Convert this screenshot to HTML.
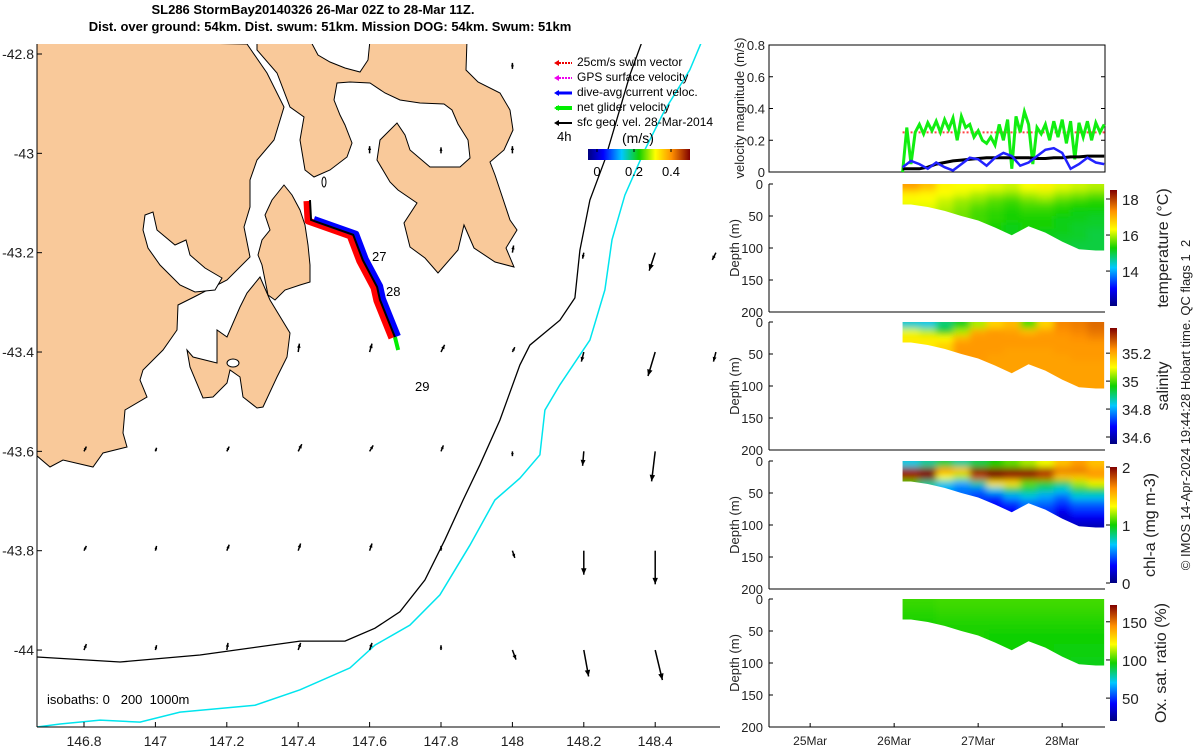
<!DOCTYPE html>
<html><head><meta charset="utf-8"><style>
html,body{margin:0;padding:0;background:#fff;}
svg{display:block;font-family:"Liberation Sans",sans-serif;}
</style></head><body>
<svg id="fig" width="1200" height="750" viewBox="0 0 1200 750" xmlns="http://www.w3.org/2000/svg">
<defs>
<linearGradient id="jetH" x1="0" x2="1" y1="0" y2="0">
<stop offset="0" stop-color="#00007f"/><stop offset="0.15" stop-color="#0000ff"/><stop offset="0.33" stop-color="#00c8ff"/><stop offset="0.5" stop-color="#10d000"/><stop offset="0.66" stop-color="#ffff00"/><stop offset="0.82" stop-color="#ff9000"/><stop offset="1" stop-color="#800000"/>
</linearGradient>
<linearGradient id="jetV" x1="0" x2="0" y1="1" y2="0">
<stop offset="0" stop-color="#00007f"/><stop offset="0.15" stop-color="#0000ff"/><stop offset="0.33" stop-color="#00c8ff"/><stop offset="0.5" stop-color="#10d000"/><stop offset="0.66" stop-color="#ffff00"/><stop offset="0.82" stop-color="#ff9000"/><stop offset="1" stop-color="#800000"/>
</linearGradient>
<filter id="soft" x="-5%" y="-5%" width="110%" height="110%"><feGaussianBlur stdDeviation="3.5"/></filter>
<clipPath id="mapclip"><rect x="37" y="44" width="683" height="683"/></clipPath>
</defs>

<g font-weight="bold" font-size="13" text-anchor="middle" fill="#000">
<text x="313" y="14">SL286 StormBay20140326 26-Mar 02Z to 28-Mar 11Z.</text>
<text x="330" y="31">Dist. over ground: 54km. Dist. swum: 51km. Mission DOG: 54km. Swum: 51km</text>
</g>

<g id="map" clip-path="url(#mapclip)">
<g fill="#f9c99a" stroke="#000" stroke-width="1">
<polygon points="30,40 247,44 267,73 284,107 274,140 257,160 250,180 250,207 244,227 250,257 227,280 194,297 178,305 177,330 163,350 143,370 140,380 147,397 125,410 123,433 127,447 103,453 93,467 63,460 50,467 30,450"/>
<polygon points="257,40 467,40 466,70 478,82 500,93 510,110 513,130 504,150 490,162 495,175 500,190 510,220 517,230 506,248 514,267 495,262 474,248 464,225 458,250 438,273 425,258 410,247 404,223 417,203 398,190 390,182 377,160 380,140 397,123 405,135 410,150 430,167 460,167 470,158 468,140 458,124 452,110 444,104 420,103 400,100 385,93 370,83 350,82 337,83 334,100 340,115 345,125 352,143 347,157 330,170 314,177 305,170 300,140 304,117 290,107 277,73 257,50"/>
<polygon points="284,185 292,195 300,210 305,225 308,245 310,265 310,282 300,285 285,290 275,300 268,295 265,280 262,265 258,255 262,240 270,230 265,215 272,200"/>
<polygon points="260,277 270,300 290,333 287,357 277,377 263,407 257,408 243,397 240,377 230,370 227,383 213,397 203,398 190,367 187,350 193,357 217,363 217,330 227,337 240,307 247,293"/>
</g>
<g fill="#fff" stroke="#000" stroke-width="1">
<polygon points="145,215 153,212 157,230 175,245 186,240 190,255 205,268 222,278 215,290 195,292 180,285 160,265 148,248 143,230"/>
<polygon points="310,40 370,40 368,60 360,72 345,68 330,62 318,55"/>
<ellipse cx="233" cy="363" rx="6" ry="4"/>
<ellipse cx="324" cy="182" rx="2" ry="5"/>
</g>
<g id="isobaths"></g>
<g id="vectors"></g>
<g id="track"></g>
<g font-size="13" fill="#000">
<text x="372" y="261">27</text><text x="386" y="296">28</text><text x="415" y="391">29</text>
</g>
</g>
<g stroke="#000" stroke-width="1">
<line x1="37" y1="44" x2="37" y2="727"/><line x1="37" y1="727" x2="720" y2="727"/>
</g>
<g id="mapticks" font-size="14" fill="#222"></g>
<text x="47" y="704" font-size="13" fill="#000" xml:space="preserve">isobaths: 0   200  1000m</text>

<g font-size="12" fill="#000">
<g><line x1="556" y1="63" x2="572" y2="63" stroke="#e00" stroke-width="2" stroke-dasharray="2,1"/><polygon points="554,63 559,60 559,66" fill="#e00"/><text x="577" y="66">25cm/s swim vector</text></g>
<g><line x1="556" y1="78" x2="572" y2="78" stroke="#e0e" stroke-width="2" stroke-dasharray="2,1"/><polygon points="554,78 559,75 559,81" fill="#e0e"/><text x="577" y="81">GPS surface velocity</text></g>
<g><line x1="556" y1="93" x2="572" y2="93" stroke="#00f" stroke-width="3"/><polygon points="554,93 559,90 559,96" fill="#00f"/><text x="577" y="96">dive-avg current veloc.</text></g>
<g><line x1="556" y1="108" x2="572" y2="108" stroke="#0e0" stroke-width="4"/><polygon points="554,108 559,105 559,111" fill="#0e0"/><text x="577" y="111">net glider velocity</text></g>
<g><line x1="556" y1="123" x2="572" y2="123" stroke="#000" stroke-width="2"/><polygon points="554,123 559,120 559,126" fill="#000"/><text x="577" y="126">sfc geo. vel. 28-Mar-2014</text></g>
<text x="557" y="141" font-size="13">4h</text>
<text x="622" y="143" font-size="14">(m/s)</text>
<rect x="588" y="149" width="102" height="11" fill="url(#jetH)"/>
<g stroke="#000" stroke-width="1"><line x1="597" y1="149" x2="597" y2="152"/><line x1="634" y1="149" x2="634" y2="152"/><line x1="671" y1="149" x2="671" y2="152"/></g>
<text x="597" y="176" text-anchor="middle" font-size="13">0</text><text x="634" y="176" text-anchor="middle" font-size="13">0.2</text><text x="671" y="176" text-anchor="middle" font-size="13">0.4</text>
</g>

<g id="right"></g>

<text transform="translate(1190,405) rotate(-90)" text-anchor="middle" font-size="13" fill="#222" xml:space="preserve">© IMOS 14-Apr-2024 19:44:28 Hobart time. QC flags 1  2</text>
</svg>

<script>
// ---------- velocity series ----------
const velGreenStart = 26.1, velGreenStep = 0.05;
const velGreen = [0,0.28,0.05,0.25,0.3,0.24,0.31,0.26,0.32,0.25,0.33,0.27,0.34,0.2,0.35,0.28,0.3,0.22,0.26,0.2,0.18,0.22,0.17,0.3,0.2,0.33,0.02,0.35,0.25,0.38,0.3,0.05,0.28,0.24,0.3,0.2,0.32,0.22,0.33,0.18,0.32,0.08,0.31,0.22,0.32,0.2,0.31,0.25,0.3];
const velBlueStep = 0.1;
const velBlue = [0.03,0.07,0.05,0.02,0.06,0.03,0.01,0.05,0.09,0.08,0.04,0.09,0.12,0.1,0.04,0.06,0.1,0.14,0.15,0.12,0.02,0.05,0.09,0.06,0.05];
const velBlack = [0.02,0.02,0.02,0.03,0.05,0.06,0.07,0.075,0.08,0.085,0.09,0.09,0.09,0.09,0.09,0.09,0.085,0.085,0.09,0.09,0.095,0.095,0.1,0.1,0.1];
const velSwim = 0.25;
const velTicks = [0,0.2,0.4,0.6,0.8];
const dateTicks = [25,26,27,28];
const dateLabels = ["25Mar","26Mar","27Mar","28Mar"];
const depthTicks = [0,50,100,150,200];

// ---------- sections ----------
const secStart = 26.1, secStep = 0.2;
const colBottom = [32,36,42,50,57,68,80,66,76,90,102,104];
const tempData = [
[17.2,16.5,16.3,16.2],[16.9,16.4,16.3,16.2],[16.4,16.3,16.1,16.0,15.9],[16.3,16.2,15.9,15.8,15.7],
[16.3,16.0,15.8,15.6,15.5,15.5],[16.2,15.9,15.6,15.5,15.4,15.4,15.3],[16.1,15.8,15.5,15.4,15.3,15.3,15.2,15.2],
[16.3,16.0,15.7,15.5,15.4,15.3,15.3],[16.4,16.1,15.8,15.5,15.4,15.3,15.3,15.2],
[16.2,15.9,15.6,15.4,15.3,15.2,15.2,15.2,15.1],[16.1,15.8,15.5,15.3,15.2,15.2,15.1,15.1,15.1,15.0,15.0],
[16.0,15.7,15.4,15.3,15.2,15.1,15.1,15.0,15.0,15.0,15.0]];
const salData = [
[34.85,35.08,35.12,35.12],[34.84,35.05,35.12,35.12],[34.9,34.95,35.1,35.15,35.15],[34.95,35.05,35.18,35.22,35.22],
[35.05,35.2,35.22,35.22,35.22,35.22],[35.15,35.22,35.22,35.22,35.22,35.21,35.21],[35.18,35.21,35.22,35.22,35.21,35.21,35.21,35.21],
[35.0,35.18,35.22,35.22,35.21,35.21,35.21],[35.15,35.21,35.22,35.22,35.21,35.21,35.21,35.21],
[35.24,35.23,35.22,35.22,35.22,35.21,35.21,35.21,35.21],[35.25,35.24,35.23,35.22,35.22,35.22,35.21,35.21,35.21,35.21,35.21],
[35.27,35.26,35.24,35.22,35.22,35.22,35.21,35.21,35.21,35.21,35.21]];
const chlData = [
[0.7,1.95,1.9,1.0],[0.8,2,2,0.8],[0.9,1.6,1.3,0.7,0.6],[0.8,1.5,1.2,0.6,0.5],
[0.9,2,1.8,0.8,0.5,0.4],[1.0,2,2,1.4,0.7,0.4,0.3],[1.1,2,1.9,1.4,0.9,0.6,0.4,0.3],
[1.2,2,1.9,1.1,0.9,0.7,0.5],[1.3,1.9,1.8,1.0,0.8,0.6,0.5,0.4],[1.5,1.7,1.5,0.9,0.7,0.5,0.4,0.3,0.2],
[1.6,1.7,1.5,1.2,0.9,0.7,0.5,0.4,0.3,0.2,0.1],[1.5,1.6,1.6,1.3,1.0,0.7,0.5,0.4,0.3,0.2,0.1]];
const oxData = [
[100,99,98,97],[100,99,98,97],[101,100,99,98,97],[101,100,99,98,97],
[101,100,99,98,97,97],[101,100,99,98,97,96,96],[101,100,99,98,97,96,96,96],
[101,100,99,98,97,96,96],[101,100,99,98,97,96,96,96],[101,100,99,98,97,96,96,95,95],
[101,100,99,98,97,96,96,95,95,94,94],[101,100,99,98,97,96,96,95,95,94,94]];
const tempTicks=[14,16,18], salTicks=[34.6,34.8,35,35.2], chlTicks=[0,1,2], oxTicks=[50,100,150];

// ---------- map data ----------
const mapLonTicks=[146.8,147,147.2,147.4,147.6,147.8,148,148.2,148.4];
const mapLatTicks=[-42.8,-43,-43.2,-43.4,-43.6,-43.8,-44];
const iso200Lon=[146.668,146.901,147.125,147.405,147.531,147.615,147.685,147.755,147.811,147.862,147.909,147.965,148.021,148.049,148.133,148.175,148.189,148.217,148.259,148.296,148.329,148.371];
const iso200Lat=[-44.014,-44.024,-44.010,-43.982,-43.982,-43.956,-43.923,-43.859,-43.778,-43.698,-43.627,-43.537,-43.426,-43.386,-43.336,-43.291,-43.195,-43.094,-43.013,-42.923,-42.842,-42.760];
const iso1000Lon=[146.668,146.733,146.845,146.957,147.069,147.279,147.405,147.545,147.615,147.713,147.797,147.881,147.951,148.021,148.077,148.091,148.133,148.217,148.259,148.279,148.315,148.371,148.427,148.497,148.539];
const iso1000Lat=[-44.155,-44.149,-44.141,-44.145,-44.125,-44.111,-44.080,-44.036,-43.990,-43.950,-43.889,-43.789,-43.698,-43.654,-43.607,-43.517,-43.466,-43.376,-43.275,-43.174,-43.084,-42.993,-42.913,-42.832,-42.760];
const trackLon=[147.433,147.436,147.554,147.581,147.621,147.629,147.671];
const trackLat=[-43.094,-43.134,-43.164,-43.215,-43.269,-43.295,-43.370];
const netEndLon=147.680, netEndLat=-43.396;
const vecLon=[148.0,148.2,148.4,148.57, 147.4,147.6,147.8,148.0,148.2,148.4,148.57, 146.8,147.0,147.2,147.4,147.6,147.8,148.0,148.2,148.4, 146.8,147.0,147.2,147.4,147.6,147.8,148.0,148.2,148.4, 146.8,147.0,147.2,147.4,147.6,147.8,148.0,148.2,148.4, 147.6,147.8,148.0,148.0];
const vecLat=[-43.2,-43.2,-43.2,-43.2, -43.4,-43.4,-43.4,-43.4,-43.4,-43.4,-43.4, -43.6,-43.6,-43.6,-43.6,-43.6,-43.6,-43.6,-43.6,-43.6, -43.8,-43.8,-43.8,-43.8,-43.8,-43.8,-43.8,-43.8,-43.8, -44,-44,-44,-44,-44,-44,-44,-44,-44, -43.0,-43.0,-43.0,-42.83];
const vecU=[0.01,-0.01,-0.05,-0.03, 0.01,0.02,0.03,0.02,-0.02,-0.06,-0.02, 0.02,0.01,0.02,0.03,0.03,0.02,0.0,-0.01,-0.03, 0.02,0.01,0.02,0.02,0.02,0.0,0.02,0.0,0.0, 0.02,0.01,0.01,0.02,0.02,0.0,0.03,0.04,0.06, 0.0,0.0,0.0,0.0];
const vecV=[0.06,-0.05,-0.15,-0.06, 0.07,0.07,0.06,0.04,-0.08,-0.2,-0.08, 0.04,0.03,0.04,0.06,0.05,0.05,-0.04,-0.12,-0.25, 0.04,0.04,0.05,0.06,0.06,0.04,-0.06,-0.2,-0.28, 0.05,0.04,0.06,0.06,0.06,0.04,-0.08,-0.22,-0.25, 0.06,0.05,0.06,0.05];

const NS='http://www.w3.org/2000/svg';
function mk(tag,attrs,parent){const e=document.createElementNS(NS,tag);for(const k in attrs)e.setAttribute(k,attrs[k]);if(parent)parent.appendChild(e);return e;}
const stops=[[0,[0,0,127]],[0.15,[0,0,255]],[0.33,[0,200,255]],[0.5,[16,208,0]],[0.66,[255,255,0]],[0.82,[255,144,0]],[1,[128,0,0]]];
function jet(t){t=Math.max(0,Math.min(1,t));for(let i=1;i<stops.length;i++){if(t<=stops[i][0]){const a=stops[i-1],b=stops[i];const f=(t-a[0])/(b[0]-a[0]);const c=a[1].map((v,j)=>Math.round(v+(b[1][j]-v)*f));return 'rgb('+c.join(',')+')';}}return 'rgb(128,0,0)';}

// ---- map ----
const mx=lon=>84+(lon-146.8)*357;
const my=lat=>54+(-42.8-lat)*496.7;
const iso=document.getElementById('isobaths');
function pl(lons,lats){return lons.map((l,i)=>mx(l).toFixed(1)+','+my(lats[i]).toFixed(1)).join(' ');}
const i2=mk('polyline',{points:pl(iso200Lon,iso200Lat),fill:'none',stroke:'#000','stroke-width':1.3},iso);


const i1=mk('polyline',{points:pl(iso1000Lon,iso1000Lat),fill:'none',stroke:'#00e5ee','stroke-width':1.5},iso);



const vg=document.getElementById('vectors');
const S=120;
for(let i=0;i<vecLon.length;i++){
  const x=mx(vecLon[i]),y=my(vecLat[i]);const x2=x+vecU[i]*S,y2=y-vecV[i]*S;
  const g=mk('g',{},vg);
  
  
  mk('line',{x1:x,y1:y,x2:x2,y2:y2,stroke:'#000','stroke-width':1.5},g);
  const a=Math.atan2(y2-y,x2-x),h=Math.min(7,2+Math.hypot(x2-x,y2-y)*0.3);
  const p1=[x2-h*Math.cos(a-0.4),y2-h*Math.sin(a-0.4)],p2=[x2-h*Math.cos(a+0.4),y2-h*Math.sin(a+0.4)];
  mk('polygon',{points:x2+','+y2+' '+p1.join(',')+' '+p2.join(','),fill:'#000'},g);
}
const tg=document.getElementById('track');
const tpts=trackLon.map((l,i)=>[mx(l),my(trackLat[i])]);
const red=mk('polyline',{points:tpts.map(p=>(p[0]-3)+','+(p[1]+1)).join(' '),fill:'none',stroke:'#f00','stroke-width':7,'stroke-linejoin':'round'},tg);


const blue=mk('polyline',{points:tpts.slice(1).map(p=>(p[0]+3)+','+(p[1]-1)).join(' '),fill:'none',stroke:'#00f','stroke-width':6,'stroke-linejoin':'round'},tg);


const last=tpts[tpts.length-1];
const grn=mk('line',{x1:last[0],y1:last[1],x2:mx(netEndLon),y2:my(netEndLat),stroke:'#0e0','stroke-width':4},tg);


const blk=mk('polyline',{points:tpts.map(p=>p.join(',')).join(' '),fill:'none',stroke:'#000','stroke-width':2},tg);



const mt=document.getElementById('mapticks');
mapLonTicks.forEach(l=>{const x=mx(l);mk('line',{x1:x,y1:727,x2:x,y2:722,stroke:'#000'},mt);const t=mk('text',{x:x,y:746,'text-anchor':'middle'},mt);t.textContent=String(l);

});
mapLatTicks.forEach(l=>{const y=my(l);mk('line',{x1:37,y1:y,x2:42,y2:y,stroke:'#000'},mt);const t=mk('text',{x:34,y:y+5,'text-anchor':'end'},mt);t.textContent=String(l);

});

// ---- right panels ----
const R=document.getElementById('right');
const L=769,Rr=1105;
const xT=t=>L+(t-24.51)*84;
function txt(x,y,s,attrs,parent,name){const t=mk('text',Object.assign({x:x,y:y,'font-size':13,fill:'#222'},attrs||{}),parent);t.textContent=s;

return t;}

// velocity panel
(function(){
  const top=45,bot=172;const vy=v=>bot-v/0.8*(bot-top);
  const g=mk('g',{},R);
  
  
  mk('rect',{x:L,y:top,width:Rr-L,height:bot-top,fill:'none',stroke:'#000'},g);
  velTicks.forEach(v=>{const y=vy(v);mk('line',{x1:L,y1:y,x2:L+4,y2:y,stroke:'#000'},g);mk('line',{x1:Rr,y1:y,x2:Rr-4,y2:y,stroke:'#000'},g);txt(L-4,y+5,String(v),{'text-anchor':'end'},g,'velocity-tick-label');});
  const sw=mk('line',{x1:xT(velGreenStart),y1:vy(velSwim),x2:Rr,y2:vy(velSwim),stroke:'#f44','stroke-width':2,'stroke-dasharray':'2,2'},g);
  
  
  const gl=mk('polyline',{points:velGreen.map((v,i)=>xT(velGreenStart+i*velGreenStep).toFixed(1)+','+vy(v).toFixed(1)).join(' '),fill:'none',stroke:'#1e1','stroke-width':3},g);
  
  
  const kl=mk('polyline',{points:velBlack.map((v,i)=>xT(velGreenStart+i*velBlueStep).toFixed(1)+','+vy(v).toFixed(1)).join(' '),fill:'none',stroke:'#000','stroke-width':3},g);
  
  
  const bl=mk('polyline',{points:velBlue.map((v,i)=>xT(velGreenStart+i*velBlueStep).toFixed(1)+','+vy(v).toFixed(1)).join(' '),fill:'none',stroke:'#22f','stroke-width':2.5},g);
  
  
  txt(0,0,'velocity magnitude (m/s)',{transform:'translate(744,108) rotate(-90)','text-anchor':'middle','font-size':13},g,'velocity-axis-title');
})();

function section(top,data,vmin,vmax,ticks,tickFmt,label,labelX,name,showX){
  const bot=top+128;const dy=d=>top+d*0.64;
  const g=mk('g',{},R);
  
  
  const cid='clip-'+name;
  const cp=mk('clipPath',{id:cid},g);
  let pts=[[xT(secStart),dy(0)],[xT(secStart+colBottom.length*secStep),dy(0)]];
  pts.push([xT(secStart+colBottom.length*secStep),dy(colBottom[colBottom.length-1])]);
  for(let i=colBottom.length-1;i>=0;i--)pts.push([xT(secStart+(i+0.5)*secStep),dy(colBottom[i])]);
  pts.push([xT(secStart),dy(colBottom[0])]);
  mk('polygon',{points:pts.map(p=>p.join(',')).join(' ')},cp);
  const outer=mk('g',{'clip-path':'url(#'+cid+')'},g);
  const cg=mk('g',{filter:'url(#soft)'},outer);
  data.forEach((col,i)=>{col.forEach((v,j)=>{
    const w=secStep*84;
    const x0=xT(secStart+i*secStep)-(i===0?8:0);
    const ww=w+0.6+(i===0?8:0)+(i===data.length-1?8:0);
    const hh=(j===col.length-1)?20:7;
    const c=mk('rect',{x:x0.toFixed(1),y:(dy(j*10)-(j===0?8:0)).toFixed(1),width:ww.toFixed(1),height:hh+(j===0?8:0),fill:jet((v-vmin)/(vmax-vmin))},cg);
    
    
  });});
  mk('line',{x1:L,y1:top,x2:L,y2:bot,stroke:'#000'},g);
  mk('line',{x1:L,y1:bot,x2:Rr,y2:bot,stroke:'#000'},g);
  depthTicks.forEach(d=>{const y=dy(d);mk('line',{x1:L,y1:y,x2:L+4,y2:y,stroke:'#000'},g);txt(L-6,y+5,String(d),{'text-anchor':'end'},g,'depth-tick-label');});
  txt(0,0,'Depth (m)',{transform:'translate(739,'+(top+64)+') rotate(-90)','text-anchor':'middle','font-size':13},g,'depth-axis-title');
  const cbT=top+6,cbB=top+122;
  const cb=mk('rect',{x:1110,y:cbT,width:7,height:cbB-cbT,fill:'url(#jetV)'},g);
  
  
  ticks.forEach(v=>{const y=cbB-(v-vmin)/(vmax-vmin)*(cbB-cbT);mk('line',{x1:1106,y1:y,x2:1110,y2:y,stroke:'#000'},g);txt(1122,y+6,tickFmt(v),{'font-size':15},g,name+'-colorbar-tick');});
  txt(0,0,label,{transform:'translate('+labelX+','+(top+64)+') rotate(-90)','text-anchor':'middle','font-size':16},g,name+'-colorbar-title');
  if(showX){dateTicks.forEach((d,i)=>{const x=xT(d);mk('line',{x1:x,y1:bot,x2:x,y2:bot-4,stroke:'#000'},g);txt(x,bot+18,dateLabels[i],{'text-anchor':'middle','font-size':12},g,'date-tick-label');});}
}
section(184,tempData,12.06,18.5,tempTicks,v=>String(v),'temperature (°C)',1168,'temperature',false);
section(322,salData,34.55,35.38,salTicks,v=>String(v),'salinity',1168,'salinity',false);
section(461,chlData,0,2,chlTicks,v=>String(v),'chl-a (mg m-3)',1155,'chl-a',false);
section(599,oxData,20,172,oxTicks,v=>String(v),'Ox. sat. ratio (%)',1166,'oxygen',true);
</script>
</body></html>
